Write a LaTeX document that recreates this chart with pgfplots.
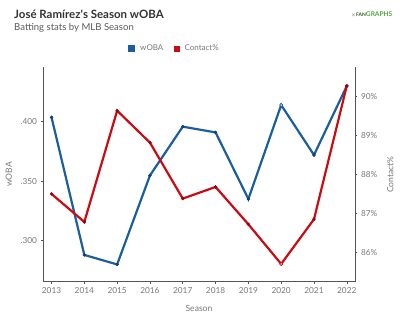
\documentclass[border=0pt]{standalone}
\usepackage{pgfplots}
\pgfplotsset{compat=1.18}
\usepackage{fontspec}
\setmainfont{Lato}
\definecolor{woba}{HTML}{1B5E9B}
\definecolor{wobad}{HTML}{123F6A}
\definecolor{contact}{HTML}{CC0A12}
\definecolor{contactd}{HTML}{8E070C}
\definecolor{txt}{HTML}{777777}
\definecolor{axisgray}{HTML}{555555}
\definecolor{fg}{HTML}{4FA83D}
\definecolor{fgd}{HTML}{2E5A25}
\pgfplotstableread{
year woba
2013 0.4037
2014 0.288
2015 0.280
2016 0.3548
2017 0.3958
2018 0.391
2019 0.335
2020 0.414
2021 0.372
2022 0.430
}\wobatable
\pgfplotstableread{
year contact
2013 87.50
2014 86.78
2015 89.64
2016 88.82
2017 87.38
2018 87.68
2019 86.72
2020 85.70
2021 86.85
2022 90.28
}\contacttable
\begin{document}
\begin{tikzpicture}
\path[use as bounding box] (0bp,0bp) rectangle (400bp,323bp);
\node[anchor=base west, inner sep=0, font=\bfseries\fontsize{11.5}{13}\selectfont, text=black!80] at (14bp,304.5bp) {José Ramírez\textquotesingle s Season wOBA};
\node[anchor=base west, inner sep=0, font=\fontsize{9.6}{11}\selectfont, text=black!65] at (14bp,292bp) {Batting stats by MLB Season};
\node[anchor=base east, inner sep=0, font=\bfseries\fontsize{6.6}{7}\selectfont, text=fg] at (392.5bp,306bp) {\textcolor{fgd}{\fontsize{5}{5}\selectfont$\times$FAN}GRAPHS};
\pgfplotsset{
  common/.style={
    at={(43bp,41.3bp)}, anchor=south west,
    scale only axis, width=312bp, height=214.4bp,
    xmin=2012.74, xmax=2022.25,
    tick label style={font=\fontsize{8.3}{9}\selectfont, text=txt},
    label style={font=\fontsize{8.6}{10}\selectfont, text=txt},
    /pgf/number format/assume math mode=true,
    axis line style={axisgray, line width=0.7pt},
    major tick length=2.5pt,
    tick style={axisgray, line width=0.5pt},
    tick align=outside,
  }
}
\begin{axis}[common,
  axis x line*=bottom, axis y line*=left,
  ymin=0.2655, ymax=0.4457,
  ytick={0.300,0.350,0.400},
  yticklabel style={/pgf/number format/.cd, fixed, fixed zerofill, precision=3, skip 0.},
  xtick={2013,...,2022},
  xticklabel style={/pgf/number format/.cd, 1000 sep={}},
  xlabel={Season}, ylabel={wOBA},
  xlabel style={yshift=-5pt},
  ylabel style={yshift=2pt},
  legend style={at={(0.272,1.0886)}, anchor=west, draw=none, fill=none,
    font=\fontsize{8}{9}\selectfont, text=txt, legend columns=2,
    inner sep=0pt,
    /tikz/every odd column/.append style={column sep=3pt},
    /tikz/every even column/.append style={column sep=9pt}},
  legend image code/.code={\fill[#1] (0bp,-2.6bp) rectangle (5bp,2.4bp);},
]
\addplot[woba, line width=2.2pt, mark=*, mark size=1.5pt, mark options={fill=wobad, draw=wobad, line width=0.4pt}] table[x=year,y=woba] {\wobatable};
\addlegendentry{wOBA}
\addlegendimage{contact}
\addlegendentry{Contact\%}
\addplot[only marks, mark=*, mark size=1.5pt, mark options={fill=white, draw=woba, line width=0.6pt}] coordinates {(2020,0.414)};
\end{axis}
\begin{axis}[common,
  axis x line=none, axis y line*=right,
  ymin=85.244, ymax=90.756,
  ytick={86,87,88,89,90},
  yticklabel={\pgfmathprintnumber{\tick}\%},
  ylabel={Contact\%},
  ylabel style={yshift=-3pt},
]
\addplot[contact, line width=2.2pt, mark=*, mark size=1.5pt, mark options={fill=contactd, draw=contactd, line width=0.4pt}] table[x=year,y=contact] {\contacttable};
\addplot[only marks, mark=*, mark size=1.5pt, mark options={fill=white, draw=contact, line width=0.6pt}] coordinates {(2020,85.70)};
\end{axis}
\end{tikzpicture}
\end{document}
